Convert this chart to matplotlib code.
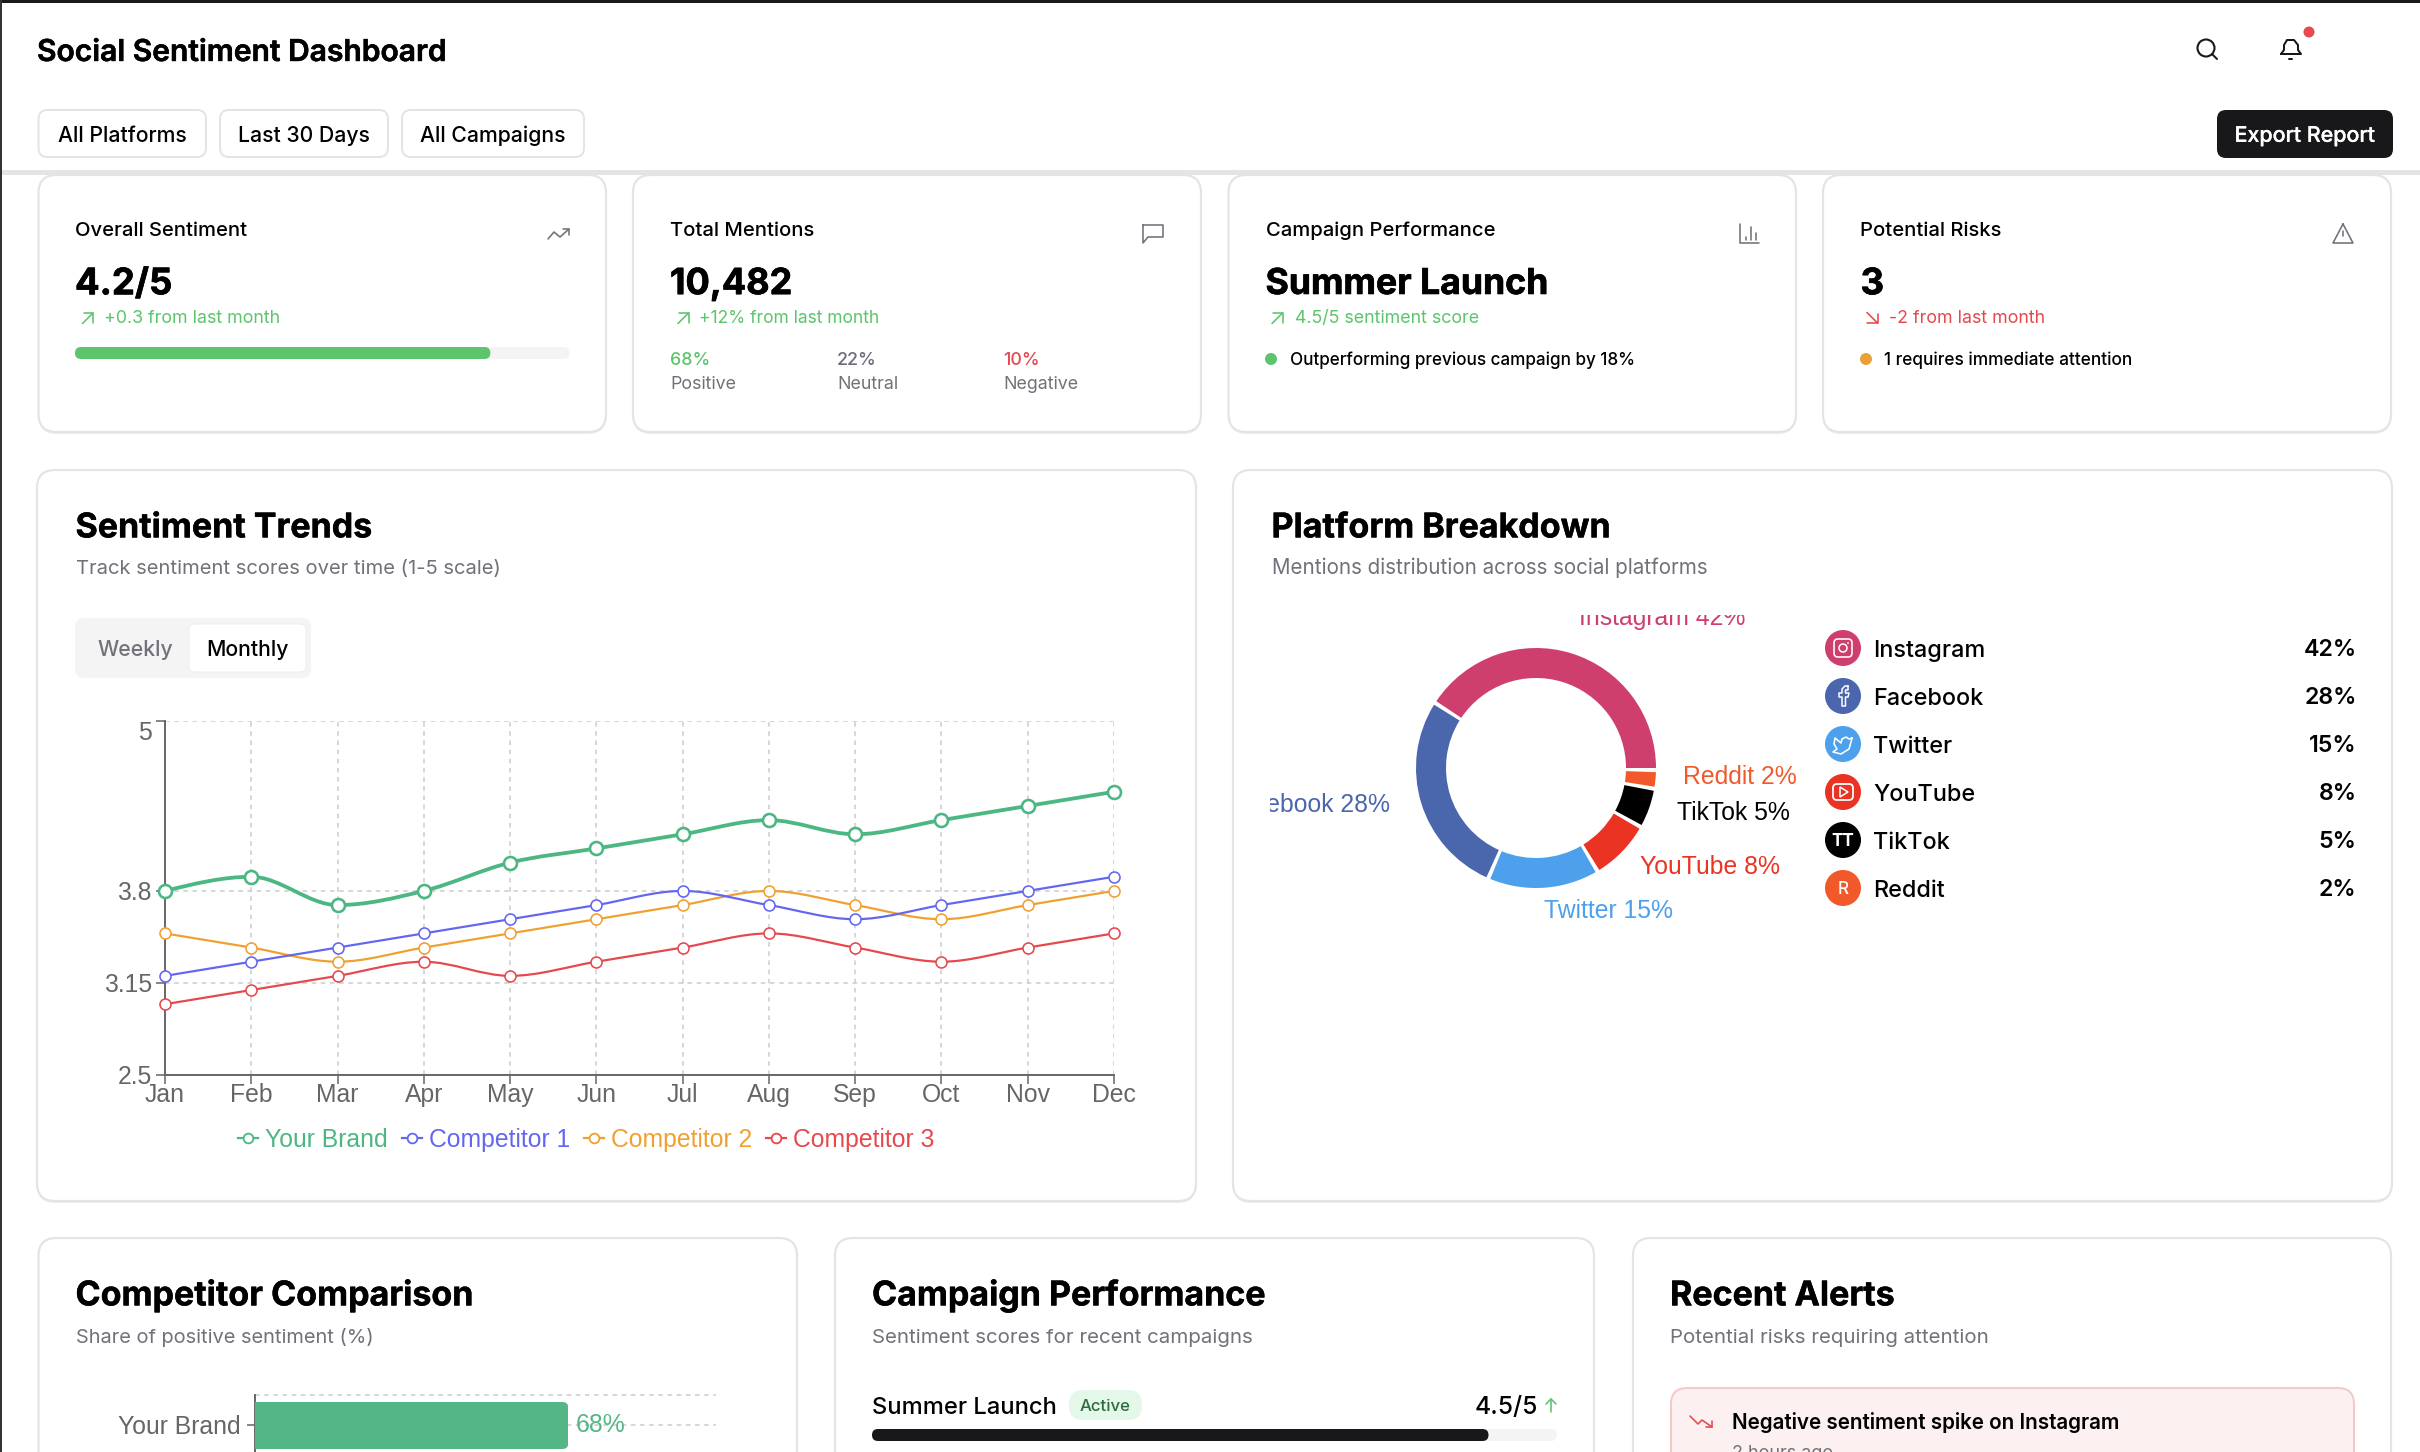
import numpy as np
import matplotlib
matplotlib.use("Agg")
import matplotlib.pyplot as plt
import matplotlib.patheffects as pe
from matplotlib.patches import FancyBboxPatch, PathPatch, Circle, Polygon
from matplotlib.path import Path
from matplotlib.lines import Line2D

W, H = 2420, 1452
plt.rcParams["font.family"] = ["Inter", "DejaVu Sans"]
CHART_FONT = ["Liberation Sans", "DejaVu Sans"]

# ── Data ─────────────────────────────────────────────────────────────────────
months = ["Jan", "Feb", "Mar", "Apr", "May", "Jun", "Jul", "Aug", "Sep", "Oct", "Nov", "Dec"]
your_brand   = [3.8, 3.9, 3.7, 3.8, 4.0, 4.1, 4.2, 4.3, 4.2, 4.3, 4.4, 4.5]
competitor_1 = [3.2, 3.3, 3.4, 3.5, 3.6, 3.7, 3.8, 3.7, 3.6, 3.7, 3.8, 3.9]
competitor_2 = [3.5, 3.4, 3.3, 3.4, 3.5, 3.6, 3.7, 3.8, 3.7, 3.6, 3.7, 3.8]
competitor_3 = [3.0, 3.1, 3.2, 3.3, 3.2, 3.3, 3.4, 3.5, 3.4, 3.3, 3.4, 3.5]
y_ticks = [2.5, 3.15, 3.8, 5]
y_tick_labels = ["2.5", "3.15", "3.8", "5"]

platforms = ["Instagram", "Facebook", "Twitter", "YouTube", "TikTok", "Reddit"]
platform_share = [42, 28, 15, 8, 5, 2]
platform_colors = ["#CF3F6E", "#4A67AD", "#4DA0EC", "#EA3323", "#000000", "#F1592A"]

compare_names = ["Your Brand"]
compare_values = [68]
overall_score = 4.2
campaign_score = 4.5

GREEN = "#5CC46B"
RED = "#E5484D"
ORANGE = "#EAA037"
GRAY = "#71717A"
BORDER = "#E4E4E7"
DARK = "#18181B"
BRAND = "#4CB782"
C1 = "#6366F1"
C2 = "#F0A030"
C3 = "#E5484D"

fig = plt.figure(figsize=(W / 100, H / 100), dpi=100, facecolor="white")
base = fig.add_axes([0, 0, 1, 1])
base.set_xlim(0, W)
base.set_ylim(H, 0)
base.axis("off")


def px_axes(x0, y0, x1, y1):
    return fig.add_axes([x0 / W, 1 - y1 / H, (x1 - x0) / W, (y1 - y0) / H])


def label(x, y, s, size, color="black", weight=400, ha="left", heavy=0, **kw):
    # y is the middle of the capitals, size is in pixels
    t = base.text(x, y + 0.364 * size, s, fontsize=size * 0.72, color=color,
                  fontweight=weight, ha=ha, va="baseline", zorder=6, **kw)
    if heavy:
        t.set_path_effects([pe.withStroke(linewidth=heavy, foreground=color)])
    return t


def box(x0, y0, x1, y1, r, fc="white", ec="none", lw=1.5, z=2):
    p = FancyBboxPatch((x0, y0), x1 - x0, y1 - y0, boxstyle=f"round,pad=0,rounding_size={r}",
                       fc=fc, ec=ec, lw=lw * 0.72, zorder=z)
    base.add_patch(p)
    return p


def card(x0, y0, x1, y1):
    box(x0, y0 + 2, x1, y1 + 2, 18, fc="#EDEDEF", z=1)
    box(x0, y0, x1, y1, 18, ec=BORDER, lw=2.2, z=2)


def poly(pts, color=GRAY, lw=1.6, closed=False):
    pts = list(pts)
    if closed:
        pts.append(pts[0])
    xs, ys = zip(*pts)
    base.plot(xs, ys, color=color, lw=lw * 0.72, solid_capstyle="round",
              solid_joinstyle="round", zorder=6)


def arrow_up(x, y, color):
    poly([(x - 5, y + 5.5), (x + 5.5, y - 5)], color)
    poly([(x - 4, y - 5), (x + 5.5, y - 5), (x + 5.5, y + 4.5)], color)


def arrow_down(x, y, color):
    poly([(x - 5, y - 5.5), (x + 5.5, y + 5)], color)
    poly([(x - 5, y + 5), (x + 5.5, y + 5), (x + 5.5, y - 4.5)], color)


def monotone_path(xs, ys):
    # same curve as d3 curveMonotoneX
    xs, ys = np.asarray(xs, float), np.asarray(ys, float)
    h = np.diff(xs)
    s = np.diff(ys) / h
    t = np.zeros(len(xs))
    for i in range(1, len(xs) - 1):
        p = (s[i - 1] * h[i] + s[i] * h[i - 1]) / (h[i - 1] + h[i])
        t[i] = (np.sign(s[i - 1]) + np.sign(s[i])) * min(abs(s[i - 1]), abs(s[i]), 0.5 * abs(p))
    t[0] = (3 * s[0] - t[1]) / 2
    t[-1] = (3 * s[-1] - t[-2]) / 2
    verts = [(xs[0], ys[0])]
    codes = [Path.MOVETO]
    for i in range(len(xs) - 1):
        d = h[i] / 3
        verts += [(xs[i] + d, ys[i] + t[i] * d), (xs[i + 1] - d, ys[i + 1] - t[i + 1] * d), (xs[i + 1], ys[i + 1])]
        codes += [Path.CURVE4] * 3
    return Path(verts, codes)


# ── Frame and header ─────────────────────────────────────────────────────────
base.add_patch(plt.Rectangle((0, 0), W, 2.5, fc="#1A1A1A", ec="none", zorder=8))
base.add_patch(plt.Rectangle((0, 0), 1.5, H, fc="#333333", ec="none", zorder=8))
base.add_patch(plt.Rectangle((0, 170), W, 5, fc=BORDER, ec="none", zorder=1))

label(37, 50, "Social Sentiment Dashboard", 30, weight=600, heavy=0.4)
for x0, x1, s in [(38.5, 206, "All Platforms"), (220, 388, "Last 30 Days"), (402, 584, "All Campaigns")]:
    box(x0, 110, x1, 157, 9, ec=BORDER, lw=2)
    label((x0 + x1) / 2, 134, s, 21.2, weight=500, ha="center")
box(2217, 110, 2393, 158, 9, fc=DARK)
label(2305, 134, "Export Report", 21.4, color="white", weight=500, ha="center", heavy=0.2)

base.add_patch(Circle((2206, 48), 8.5, fc="none", ec="#18181B", lw=1.5, zorder=6))
poly([(2212, 54), (2217, 59)], "#18181B", 2)
poly([(2281, 54), (2284, 50), (2284, 45), (2287, 40), (2294, 40), (2298, 45), (2298, 50), (2301, 54)], "#18181B", 2, closed=True)
poly([(2289, 58.5), (2292, 58.5)], "#18181B", 2)
base.add_patch(Circle((2309, 32), 5.5, fc=RED, ec="none", zorder=6))

# ── Stat cards ───────────────────────────────────────────────────────────────
for x0, x1 in [(38.5, 606), (633, 1201), (1228.5, 1796), (1823, 2391)]:
    card(x0, 175, x1, 432)

label(75, 229, "Overall Sentiment", 20.2, weight=500)
label(75, 281, "4.2/5", 36.5, weight=700, heavy=0.5)
arrow_up(87.5, 318, GREEN)
label(104, 317, "+0.3 from last month", 17.8, GREEN)
track_x0, track_x1 = 75, 569.5
box(track_x0, 347, track_x1, 359, 6, fc="#F4F4F5", z=3)
box(track_x0, 347, track_x0 + (track_x1 - track_x0) * overall_score / 5, 359, 6, fc=GREEN, z=4)
poly([(548, 239), (554, 232), (560, 237), (569, 229)])
poly([(563, 229), (569, 229), (569, 235)])

label(670, 229, "Total Mentions", 20.2, weight=500)
label(670, 281, "10,482", 36, weight=700, heavy=0.5)
arrow_up(683, 318, GREEN)
label(699, 317, "+12% from last month", 17.4, GREEN)
for x, val, name, col in [(670, "68%", "Positive", GREEN), (837, "22%", "Neutral", "#6B6B7B"), (1003, "10%", "Negative", RED)]:
    label(x, 359, val, 17.8, col, weight=500)
    label(x, 383, name, 17.8, GRAY)
poly([(1143, 225), (1163, 225), (1163, 237), (1148, 237), (1143, 243)], closed=True)

label(1265.5, 229, "Campaign Performance", 20.2, weight=500)
label(1265.5, 281, "Summer Launch", 35.6, weight=700, heavy=0.5)
arrow_up(1277, 318, GREEN)
label(1295, 317, "4.5/5 sentiment score", 17.8, GREEN)
base.add_patch(Circle((1271, 359), 6, fc=GREEN, ec="none", zorder=6))
label(1289.5, 359, "Outperforming previous campaign by 18%", 17.1, weight=500)
poly([(1740, 224), (1740, 243), (1759, 243)])
for x, top in [(1746, 237), (1751, 227), (1756, 233)]:
    poly([(x, 240), (x, top)])

label(1860.5, 229, "Potential Risks", 20.2, weight=500)
label(1860.5, 281, "3", 36.5, weight=700, heavy=0.5)
arrow_down(1872, 318, RED)
label(1889, 317, "-2 from last month", 17.8, RED)
base.add_patch(Circle((1866, 359), 6, fc=ORANGE, ec="none", zorder=6))
label(1884, 359, "1 requires immediate attention", 17.3, weight=500)
poly([(2343, 224), (2353, 243), (2333, 243)], closed=True)
poly([(2343, 231), (2343, 236)])
poly([(2343, 239.5), (2343, 240)])

# ── Middle row ───────────────────────────────────────────────────────────────
card(37, 470, 1196, 1201)
card(1233, 470, 2392, 1201)
label(75.5, 525, "Sentiment Trends", 34, weight=700, heavy=0.3)
label(75.5, 567, "Track sentiment scores over time (1-5 scale)", 20.2, GRAY)
label(1271.5, 525, "Platform Breakdown", 34, weight=700, heavy=0.3)
label(1271.5, 567, "Mentions distribution across social platforms", 20.6, GRAY)

box(75, 618, 311, 678, 9, fc="#F4F4F5", z=3)
box(189, 624, 306, 672, 6, fc="white", ec="#EFEFF1", lw=1, z=4)
label(135, 648, "Weekly", 21.2, GRAY, weight=500, ha="center")
label(247, 648, "Monthly", 21.2, weight=500, ha="center")

# line chart
ax = px_axes(165, 721, 1114, 1075)
x_pos = np.arange(len(months))
for vals, col, width, msize, name in [(your_brand, BRAND, 3.8, 13, "Your Brand"),
                                      (competitor_1, C1, 2.2, 11, "Competitor 1"),
                                      (competitor_2, C2, 2.2, 11, "Competitor 2"),
                                      (competitor_3, C3, 2.2, 11, "Competitor 3")][::-1]:
    ax.add_patch(PathPatch(monotone_path(x_pos, vals), fc="none", ec=col, lw=width * 0.72, zorder=3))
    ax.plot(x_pos, vals, ls="none", marker="o", ms=msize * 0.72, mfc="white", mec=col,
            mew=(2.6 if name == "Your Brand" else 1.6) * 0.72, clip_on=False, zorder=4)
ax.set_xlim(0, 11)
ax.set_ylim(2.5, 5)
ax.set_xticks(x_pos, months, family=CHART_FONT)
ax.set_yticks(y_ticks, y_tick_labels, family=CHART_FONT)
ax.grid(True, ls=(0, (3, 3)), color="#CCCCCC", lw=1.1)
ax.set_axisbelow(True)
ax.tick_params(colors="#666666", labelsize=24.7 * 0.72, length=6.5, width=1.1)
ax.tick_params(axis="x", pad=-1)
ax.tick_params(axis="y", pad=3)
for lab in ax.get_yticklabels():
    if lab.get_text() == "5":
        lab.set_va("top")
ax.spines[["top", "right"]].set_visible(False)
ax.spines[["left", "bottom"]].set_color("#666666")
ax.spines[["left", "bottom"]].set_linewidth(1.4)
ax.patch.set_alpha(0)

handles = [Line2D([], [], color=c, lw=1.6, marker="o", ms=7, mfc="white", mew=1.3)
           for c in [BRAND, C1, C2, C3]]
base.legend(handles, ["Your Brand", "Competitor 1", "Competitor 2", "Competitor 3"],
            loc="center", bbox_to_anchor=(586.5, 1140), bbox_transform=base.transData, ncol=4,
            frameon=False, prop={"family": CHART_FONT, "size": 24.7 * 0.72}, labelcolor="linecolor",
            handlelength=0.8, handletextpad=0.3, columnspacing=0.56, borderpad=0, borderaxespad=0)

# donut
cx, cy = 1536, 768
pie_ax = px_axes(1270, 615, 1800, 950)
gap = 2
arc = [v * (360 - gap * len(platform_share)) / sum(platform_share) for v in platform_share]
sizes, cols = [], []
for a, c in zip(arc, platform_colors):
    sizes += [a, gap]
    cols += [c, "none"]
pie_ax.pie(sizes, colors=cols, radius=120, startangle=0, counterclock=True,
           wedgeprops={"width": 30, "linewidth": 0})
pie_ax.set_aspect("auto")
pie_ax.set_xlim(1270 - cx, 1800 - cx)
pie_ax.set_ylim(cy - 950, cy - 615)
pie_ax.axis("off")
label_pos = [(1662, 616, "center"), (1390, 803, "right"), (1608, 909, "center"),
             (1710, 865, "center"), (1733, 811, "center"), (1740, 775, "center")]
for (lx, ly, ha), name, share, col in zip(label_pos, platforms, platform_share, platform_colors):
    pie_ax.text(lx - cx, cy - ly - 0.36 * 24.7, f"{name} {share}%", color=col, fontsize=24.7 * 0.72,
                family=CHART_FONT, ha=ha, va="baseline", clip_on=True)

# platform list
row_y = [648, 696, 744, 792, 840, 888]
for y, name, share, col in zip(row_y, platforms, platform_share, platform_colors):
    base.add_patch(Circle((1843, y), 18, fc=col, ec="none", zorder=5))
    label(1873, y, name, 23.4, weight=500)
    label(2356.5, y, f"{share}%", 23.2, weight=600, ha="right")

# icon glyphs inside the list circles
box(1834, 639, 1852, 657, 4, fc="none", ec="white", lw=1.6, z=6)
base.add_patch(Circle((1843, 648), 4, fc="none", ec="white", lw=1.1, zorder=6))
base.add_patch(Circle((1848, 643), 0.9, fc="white", ec="none", zorder=6))
poly([(1848, 686), (1845, 686), (1842, 689), (1842, 693), (1839, 693), (1839, 697), (1842, 697), (1842, 706),
      (1845.5, 706), (1845.5, 697), (1848, 697), (1849, 693), (1845.5, 693), (1845.5, 690), (1848, 690)], "white", 1.5, closed=True)
poly([(1852, 738), (1849, 739), (1846, 737), (1842, 739), (1841, 743), (1835, 738), (1834, 744), (1837, 749),
      (1833, 752), (1841, 754), (1849, 749), (1851, 742)], "white", 1.6, closed=True)
box(1833, 784, 1853, 800, 4, fc="none", ec="white", lw=1.8, z=6)
base.add_patch(Polygon([(1840, 787), (1840, 797), (1848, 792)], fc="none", ec="white", lw=1.1, zorder=6))
label(1843, 840, "TT", 17, "white", weight=700, ha="center")
label(1843, 888, "R", 17, "white", weight=500, ha="center")

# ── Bottom row ───────────────────────────────────────────────────────────────
for x0, x1 in [(38.5, 797), (835, 1594), (1633, 2391)]:
    card(x0, 1238, x1, 1470)
label(75.5, 1293, "Competitor Comparison", 34, weight=700, heavy=0.3)
label(75.5, 1336, "Share of positive sentiment (%)", 20, GRAY)
label(872, 1293, "Campaign Performance", 34, weight=700, heavy=0.3)
label(872, 1336, "Sentiment scores for recent campaigns", 20.5, GRAY)
label(1670, 1293, "Recent Alerts", 34, weight=700, heavy=0.3)
label(1670, 1336, "Potential risks requiring attention", 20.5, GRAY)

# bar chart, runs off the bottom edge like the reference
bx = px_axes(254.6, 1395, 716, 1455)
bars = bx.barh(compare_names, compare_values, height=47 / 60, color="#55B685", zorder=3)
bx.set_xlim(0, 100)
bx.set_ylim(0.5, -0.5)
bx.grid(True, axis="y", ls=(0, (3, 3)), color="#CCCCCC", lw=1.1)
bx.axhline(-0.5, ls=(0, (3, 3)), color="#CCCCCC", lw=1.1, clip_on=False)
bx.set_xticks([])
bx.set_yticks([0], compare_names, family=CHART_FONT)
bx.tick_params(axis="y", colors="#666666", labelsize=24.7 * 0.72, length=6, width=1.1, pad=4)
bx.spines[["top", "right", "bottom"]].set_visible(False)
bx.spines["left"].set_color("#666666")
bx.spines["left"].set_linewidth(1.4)
bx.patch.set_alpha(0)
for rect, v in zip(bars, compare_values):
    bx.text(v + 1.7, rect.get_y() + rect.get_height() / 2, f"{v}%", color="#55B685",
            fontsize=24.7 * 0.72, family=CHART_FONT, va="center", zorder=5)
    clip = FancyBboxPatch((-20, 1402), 20 + 254.6 + v * 4.614, 47, boxstyle="round,pad=0,rounding_size=6",
                          transform=base.transData)
    rect.set_clip_path(clip)

# campaign row
label(872, 1405, "Summer Launch", 23.7, weight=500)
box(1069, 1390, 1142, 1420, 14, fc="#E3F8E8", z=3)
label(1105.5, 1405, "Active", 16.8, "#2E6B3E", weight=500, ha="center")
label(1538, 1405, f"{campaign_score}/5", 24.7, weight=500, ha="right")
poly([(1551, 1412), (1551, 1399)], GREEN)
poly([(1546, 1404), (1551, 1399), (1556, 1404)], GREEN)
box(872, 1429, 1557, 1441, 6, fc="#F4F4F5", z=3)
box(872, 1429, 872 + 685 * campaign_score / 5, 1441, 6, fc=DARK, z=4)

# alert
box(1671, 1388, 2354, 1480, 16, fc="#FCF0F0", ec="#F5C9C9", lw=2, z=3)
poly([(1690, 1416), (1698, 1424), (1702, 1420), (1712, 1427)], RED)
poly([(1712, 1421), (1712, 1427), (1706, 1427)], RED)
label(1731.5, 1422, "Negative sentiment spike on Instagram", 20.6, weight=600)
label(1732, 1451, "2 hours ago", 18, GRAY)

fig.savefig("out.png", dpi=100, facecolor="white")
